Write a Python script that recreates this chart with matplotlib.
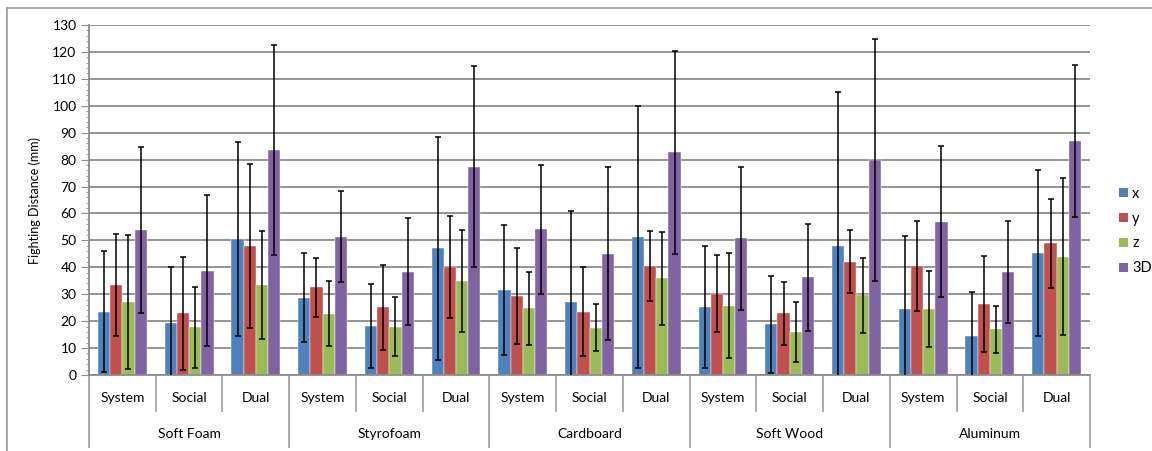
import numpy as np
import matplotlib.pyplot as plt
from matplotlib.lines import Line2D
from matplotlib.patches import Patch

plt.rcParams['font.family'] = ['Lato', 'DejaVu Sans']

materials = ["Soft Foam", "Styrofoam", "Cardboard", "Soft Wood", "Aluminum"]
conditions = ["System", "Social", "Dual"]
series = ["x", "y", "z", "3D"]
colors = ["#4F81BD", "#C0504D", "#9BBB59", "#8064A2"]

# means, one value per material/condition (15 categories)
x_mean = [23.5, 19.4, 50.4, 28.7, 18.2, 47.0, 31.6, 27.1, 51.3, 25.4, 18.9, 47.8, 24.6, 14.5, 45.4]
y_mean = [33.4, 22.9, 48.0, 32.6, 25.1, 40.0, 29.3, 23.5, 40.4, 30.1, 22.9, 42.1, 40.5, 26.4, 48.9]
z_mean = [27.2, 17.7, 33.4, 22.7, 18.0, 35.0, 24.8, 17.6, 36.0, 25.8, 16.0, 29.6, 24.5, 17.0, 44.0]
d3_mean = [53.9, 38.8, 83.6, 51.4, 38.4, 77.4, 54.1, 45.1, 82.7, 50.8, 36.3, 79.9, 57.0, 38.3, 86.9]

# standard deviations
x_err = [22.4, 20.6, 36.0, 16.6, 15.7, 41.3, 24.0, 33.8, 48.8, 22.7, 18.0, 57.3, 27.0, 16.2, 30.8]
y_err = [19.0, 20.9, 30.4, 11.0, 15.7, 19.0, 17.8, 16.5, 13.0, 14.3, 11.8, 11.8, 16.8, 17.8, 16.5]
z_err = [24.8, 15.0, 20.0, 12.1, 10.8, 19.0, 13.6, 8.6, 17.3, 19.4, 11.1, 14.0, 14.2, 8.8, 29.2]
d3_err = [30.8, 27.9, 39.0, 17.0, 20.0, 37.4, 24.0, 32.0, 37.8, 26.5, 19.8, 44.8, 27.9, 19.0, 28.2]

means = [x_mean, y_mean, z_mean, d3_mean]
errs = [x_err, y_err, z_err, d3_err]

W, H = 1152, 451
fig = plt.figure(figsize=(W / 100, H / 100), dpi=100)
ax = fig.add_axes([89 / W, (H - 375) / H, (1090 - 89) / W, 350 / H])

n = len(x_mean)
pos = np.arange(n)
bw = 0.183
for i in range(4):
    ax.bar(pos + (i - 1.5) * bw, means[i], bw, color=colors[i], edgecolor="white",
           linewidth=0.3, label=series[i], zorder=2)
    ax.errorbar(pos + (i - 1.5) * bw, means[i], yerr=errs[i], fmt="none", ecolor="black",
                elinewidth=1.1, capsize=2.4, capthick=1.1, zorder=3)

ax.set_xlim(-0.5, n - 0.5)
ax.set_ylim(0, 130)
ax.set_yticks(np.arange(0, 131, 10))
ax.set_yticks(np.arange(0, 131, 2), minor=True)
ax.yaxis.grid(True, color="#8c8c8c", linewidth=1.3, zorder=0)
ax.set_axisbelow(True)
ax.tick_params(axis="y", which="major", length=6, color="#8c8c8c", labelsize=10, pad=3)
ax.tick_params(axis="y", which="minor", length=2.5, color="#8c8c8c")
ax.set_xticks([])
for s in ["top", "right"]:
    ax.spines[s].set_visible(False)
for s in ["left", "bottom"]:
    ax.spines[s].set_color("#8c8c8c")
    ax.spines[s].set_linewidth(1.3)
ax.set_ylabel("Fighting Distance (mm)", fontsize=9, labelpad=8)

# two level category axis
tr = ax.get_xaxis_transform()
gc = "#a6a6a6"
for k in range(n):
    ax.text(k, -0.066, conditions[k % 3], transform=tr, ha="center", va="center", fontsize=10)
for k in range(n + 1):
    low = -0.206 if k % 3 == 0 else -0.103
    ax.add_line(Line2D([k - 0.5, k - 0.5], [0, low], transform=tr, color=gc,
                       linewidth=1.3, clip_on=False))
for g, m in enumerate(materials):
    ax.text(3 * g + 1, -0.169, m, transform=tr, ha="center", va="center", fontsize=10)

handles = [Patch(facecolor=c, edgecolor="none") for c in colors]
fig.legend(handles, series, loc="center left", bbox_to_anchor=(1106 / W, 1 - 231 / H),
           frameon=False, fontsize=10.5, handlelength=0.6, handleheight=0.6,
           handletextpad=0.3, labelspacing=0.75)

# outer chart border
fig.add_artist(Line2D([7 / W, 7 / W], [0, 1 - 8 / H], transform=fig.transFigure,
                      color="#9a9a9a", linewidth=1.2))
fig.add_artist(Line2D([7 / W, 1], [1 - 8 / H, 1 - 8 / H], transform=fig.transFigure,
                      color="#9a9a9a", linewidth=1.2))

fig.savefig("out.png", dpi=100)
